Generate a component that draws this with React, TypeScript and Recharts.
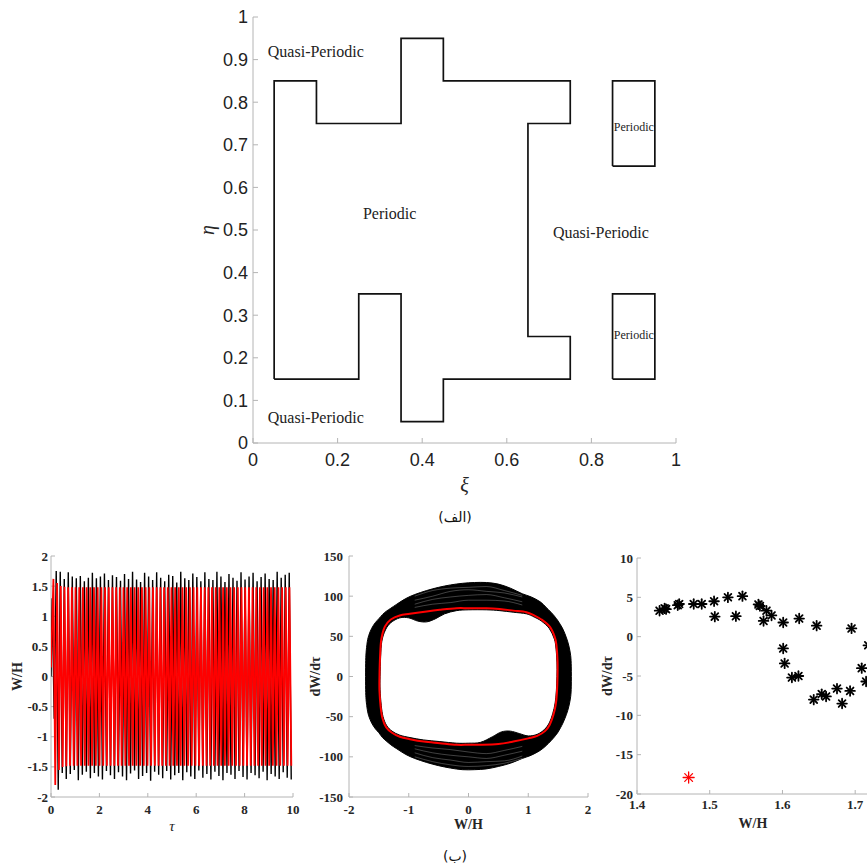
import React from 'react';
import { ScatterChart, Scatter, XAxis, YAxis } from 'recharts';

// ---------------- (الف) regime map ----------------
const xiTicks = [0, 0.2, 0.4, 0.6, 0.8, 1];
const etaTicks = [0, 0.1, 0.2, 0.3, 0.4, 0.5, 0.6, 0.7, 0.8, 0.9, 1];
const mainRegionXi = [0.05, 0.05, 0.15, 0.15, 0.35, 0.35, 0.45, 0.45, 0.75, 0.75, 0.65, 0.65, 0.75, 0.75, 0.45, 0.45, 0.35, 0.35, 0.25, 0.25, 0.05];
const mainRegionEta = [0.15, 0.85, 0.85, 0.75, 0.75, 0.95, 0.95, 0.85, 0.85, 0.75, 0.75, 0.25, 0.25, 0.15, 0.15, 0.05, 0.05, 0.35, 0.35, 0.15, 0.15];
const upperBoxXi = [0.85, 0.85, 0.95, 0.95, 0.85];
const upperBoxEta = [0.65, 0.85, 0.85, 0.65, 0.65];
const lowerBoxXi = [0.85, 0.85, 0.95, 0.95, 0.85];
const lowerBoxEta = [0.15, 0.35, 0.35, 0.15, 0.15];
const regionLabelText = ['Quasi-Periodic', 'Quasi-Periodic', 'Periodic', 'Quasi-Periodic', 'Periodic', 'Periodic'];
const regionLabelXi = [0.035, 0.035, 0.26, 0.709, 0.853, 0.853];
const regionLabelEta = [0.92, 0.061, 0.5376, 0.495, 0.742, 0.2535];
const regionLabelSmall = [false, false, false, false, true, true];

// ---------------- (ب) left: time history ----------------
const tauTicks = [0, 2, 4, 6, 8, 10];
const whTicks = [-2, -1.5, -1, -0.5, 0, 0.5, 1, 1.5, 2];
const blackStartValue = 0;
const blackFirstTau = 0.05;
const blackHalfPeriod = 0.083;
const blackPeaks = [
  1.30, 1.75, 1.74, 1.62, 1.73, 1.66, 1.63, 1.67, 1.58, 1.64,
  1.72, 1.63, 1.66, 1.71, 1.60, 1.68, 1.65, 1.59, 1.70, 1.62,
  1.74, 1.61, 1.57, 1.72, 1.66, 1.60, 1.73, 1.64, 1.58, 1.69,
  1.67, 1.56, 1.74, 1.63, 1.60, 1.71, 1.65, 1.58, 1.73, 1.62,
  1.60, 1.74, 1.66, 1.57, 1.70, 1.64, 1.59, 1.73, 1.61, 1.66,
  1.72, 1.58, 1.65, 1.71, 1.62, 1.60, 1.74, 1.64, 1.69, 1.72,
];
const blackTroughs = [
  -0.70, -1.88, -1.60, -1.70, -1.62, -1.55, -1.72, -1.63, -1.58, -1.69,
  -1.60, -1.66, -1.71, -1.57, -1.64, -1.70, -1.59, -1.66, -1.72, -1.61,
  -1.56, -1.70, -1.65, -1.60, -1.73, -1.58, -1.63, -1.69, -1.57, -1.71,
  -1.64, -1.60, -1.72, -1.59, -1.66, -1.70, -1.56, -1.68, -1.62, -1.71,
  -1.58, -1.65, -1.72, -1.60, -1.63, -1.70, -1.57, -1.67, -1.71, -1.60,
  -1.64, -1.69, -1.58, -1.72, -1.62, -1.66, -1.70, -1.59, -1.68, -1.71,
];
const redStartValue = 0.15;
const redFirstTau = 0.1;
const redHalfPeriod = 0.0762;
const redPeaks = [
  1.62, 1.55, 1.50, 1.49, 1.48, 1.48, 1.48, 1.48, 1.48, 1.48,
  1.48, 1.48, 1.48, 1.48, 1.48, 1.48, 1.48, 1.48, 1.48, 1.48,
  1.48, 1.48, 1.48, 1.48, 1.48, 1.48, 1.48, 1.48, 1.48, 1.48,
  1.48, 1.48, 1.48, 1.48, 1.48, 1.48, 1.48, 1.48, 1.48, 1.48,
  1.48, 1.48, 1.48, 1.48, 1.48, 1.48, 1.48, 1.48, 1.48, 1.48,
  1.48, 1.48, 1.48, 1.48, 1.48, 1.48, 1.48, 1.48, 1.48, 1.48,
  1.48, 1.48, 1.48, 1.48, 1.48,
];
const redTroughs = [
  -1.80, -1.55, -1.50, -1.49, -1.48, -1.48, -1.48, -1.48, -1.48, -1.48,
  -1.48, -1.48, -1.48, -1.48, -1.48, -1.48, -1.48, -1.48, -1.48, -1.48,
  -1.48, -1.48, -1.48, -1.48, -1.48, -1.48, -1.48, -1.48, -1.48, -1.48,
  -1.48, -1.48, -1.48, -1.48, -1.48, -1.48, -1.48, -1.48, -1.48, -1.48,
  -1.48, -1.48, -1.48, -1.48, -1.48, -1.48, -1.48, -1.48, -1.48, -1.48,
  -1.48, -1.48, -1.48, -1.48, -1.48, -1.48, -1.48, -1.48, -1.48, -1.48,
  -1.48, -1.48, -1.48, -1.48, -1.48,
];

// ---------------- (ب) middle: phase portrait ----------------
const phaseXTicks = [-2, -1, 0, 1, 2];
const phaseYTicks = [-150, -100, -50, 0, 50, 100, 150];
const bandX = [-1.72, -1.70, -1.67, -1.62, -1.56, -1.50, -1.44, -1.38, -1.30, -1.20, -1.05, -0.90, -0.70, -0.50, -0.30, -0.10, 0.10, 0.30, 0.50, 0.70, 0.90, 1.05, 1.20, 1.30, 1.38, 1.44, 1.50, 1.58, 1.64, 1.68, 1.71, 1.72];
const bandOuterTop = [20, 40, 51, 60, 67, 72, 77, 81, 85, 90, 97, 102, 107, 111, 114, 116, 117, 117, 115, 110, 103, 99, 93, 86, 80, 75, 69, 59, 48, 38, 26, 12];
const bandOuterBottom = [-20, -38, -49, -58, -65, -70, -76, -80, -85, -90, -97, -102, -107, -111, -114, -116, -116, -115, -112, -108, -102, -98, -92, -86, -80, -75, -69, -58, -47, -37, -25, -12];
const holeX = [-1.48, -1.47, -1.45, -1.39, -1.30, -1.15, -1.00, -0.85, -0.70, -0.55, -0.40, -0.20, 0, 0.30, 0.52, 0.75, 0.97, 1.10, 1.22, 1.35, 1.43, 1.46, 1.48, 1.48, 1.47, 1.45, 1.41, 1.35, 1.27, 1.15, 1.00, 0.85, 0.70, 0.55, 0.40, 0.20, 0, -0.20, -0.48, -0.75, -0.98, -1.15, -1.28, -1.37, -1.43, -1.46, -1.48];
const holeY = [0, 25, 44, 58, 67, 73, 73, 69, 68, 72, 78, 82, 83, 83, 82, 80, 78, 74, 69, 60, 48, 38, 18, 0, -18, -33, -46, -58, -66, -72, -74, -71, -68, -69, -75, -82, -83, -83, -81, -79, -76, -73, -68, -61, -50, -36, -16];
const streakX = [-0.9, -0.6, -0.3, 0, 0.3, 0.6, 0.9];
const streakTopA = [90, 96, 99, 101, 102, 98, 93];
const streakTopB = [95, 100, 106, 108, 106, 104, 99];
const streakTopC = [100, 107, 110, 111, 112, 107, 101];
const streakTopD = [86, 90, 92, 95, 95, 94, 89];
const streakBottomA = [-90, -95, -98, -100, -102, -98, -93];
const streakBottomB = [-95, -101, -104, -107, -106, -105, -99];
const streakBottomC = [-100, -106, -110, -112, -111, -108, -102];
const streakBottomD = [-86, -89, -91, -94, -96, -92, -87];
const limitCycleX = [-1.49, -1.48, -1.46, -1.40, -1.30, -1.15, -0.98, -0.70, -0.48, -0.20, 0, 0.30, 0.52, 0.75, 0.97, 1.10, 1.22, 1.36, 1.44, 1.47, 1.49, 1.49, 1.48, 1.46, 1.42, 1.36, 1.28, 1.15, 1.00, 0.75, 0.50, 0.20, 0, -0.20, -0.48, -0.75, -0.98, -1.15, -1.28, -1.38, -1.44, -1.47, -1.49];
const limitCycleY = [0, 25, 46, 62, 71, 76, 78, 81, 83, 85, 85, 85, 84, 82, 80, 76, 71, 62, 50, 40, 20, 0, -20, -35, -48, -60, -68, -74, -77, -81, -84, -85, -85, -85, -83, -81, -78, -75, -70, -63, -52, -38, -18];

// ---------------- (ب) right: Poincaré section ----------------
const poincareXTicks = [1.4, 1.5, 1.6, 1.7];
const poincareYTicks = [-20, -15, -10, -5, 0, 5, 10];
const poincareX = [1.431, 1.438, 1.440, 1.456, 1.458, 1.478, 1.489, 1.506, 1.507, 1.525, 1.536, 1.545, 1.567, 1.569, 1.578, 1.574, 1.585, 1.601, 1.601, 1.603, 1.613, 1.622, 1.623, 1.647, 1.643, 1.654, 1.660, 1.675, 1.682, 1.693, 1.695, 1.709, 1.715, 1.718];
const poincareY = [3.3, 3.6, 3.5, 4.0, 4.15, 4.15, 4.15, 4.5, 2.55, 5.0, 2.6, 5.15, 4.1, 3.9, 3.3, 2.0, 2.7, 1.8, -1.5, -3.4, -5.2, -5.0, 2.3, 1.4, -8.0, -7.3, -7.6, -6.6, -8.5, -6.9, 1.05, -4.0, -5.7, -1.1];
const periodicPointX = [1.471];
const periodicPointY = [-17.9];

// ---------------- derived tables ----------------
const toPts = (xs: number[], ys: number[]) => xs.map((x, i) => ({ x, y: ys[i] }));
const mainRegion = toPts(mainRegionXi, mainRegionEta);
const upperBox = toPts(upperBoxXi, upperBoxEta);
const lowerBox = toPts(lowerBoxXi, lowerBoxEta);
const regionLabels = regionLabelText.map((text, i) => ({ x: regionLabelXi[i], y: regionLabelEta[i], text, small: regionLabelSmall[i] }));

const zigzag = (startVal: number, first: number, half: number, peaks: number[], troughs: number[]) => {
  const pts = [{ x: 0, y: startVal }];
  peaks.forEach((p, i) => {
    pts.push({ x: first + 2 * i * half, y: p });
    pts.push({ x: first + (2 * i + 1) * half, y: troughs[i] });
  });
  return pts;
};
const blackSeries = zigzag(blackStartValue, blackFirstTau, blackHalfPeriod, blackPeaks, blackTroughs);
const redSeries = zigzag(redStartValue, redFirstTau, redHalfPeriod, redPeaks, redTroughs);

const outerLoop = [
  ...toPts(bandX, bandOuterTop),
  ...toPts(bandX, bandOuterBottom).reverse(),
];
const hole = toPts(holeX, holeY);
const streaks = [streakTopA, streakTopB, streakTopC, streakTopD, streakBottomA, streakBottomB, streakBottomC, streakBottomD].map((ys) => toPts(streakX, ys));
const limitCycle = toPts(limitCycleX, limitCycleY);
const poincare = toPts(poincareX, poincareY);
const periodicPoint = toPts(periodicPointX, periodicPointY);

// ---------------- helpers ----------------
const BOX = '#b4b4b4';
const noShape = () => <g />;
const hiddenTick = () => <g />;

// closed Catmull-Rom path through the projected points
const closedSmoothPath = (pts: { x: number; y: number }[]) => {
  const n = pts.length;
  let d = `M${pts[0].x},${pts[0].y}`;
  for (let i = 0; i < n; i++) {
    const p0 = pts[(i - 1 + n) % n];
    const p1 = pts[i];
    const p2 = pts[(i + 1) % n];
    const p3 = pts[(i + 2) % n];
    const c1x = p1.x + (p2.x - p0.x) / 6;
    const c1y = p1.y + (p2.y - p0.y) / 6;
    const c2x = p2.x - (p3.x - p1.x) / 6;
    const c2y = p2.y - (p3.y - p1.y) / 6;
    d += `C${c1x},${c1y} ${c2x},${c2y} ${p2.x},${p2.y}`;
  }
  return d + 'Z';
};
const smoothLoop = (fill: string, stroke: string, strokeWidth: number) => (props: any) => {
  const pts = props.points || [];
  if (pts.length < 3) return <g />;
  return <path d={closedSmoothPath(pts)} fill={fill} stroke={stroke} strokeWidth={strokeWidth} strokeLinejoin="round" />;
};

const xLabel = (text: string, dy: number, style: React.CSSProperties, dx = 0) => (props: any) => {
  const vb = props.viewBox || {};
  return (
    <text x={vb.x + vb.width / 2 + dx} y={vb.y + dy} textAnchor="middle" dominantBaseline="central" style={style}>
      {text}
    </text>
  );
};
const yLabel = (text: string, d: number, style: React.CSSProperties) => (props: any) => {
  const vb = props.viewBox || {};
  const x = vb.x + vb.width - d;
  const y = vb.y + vb.height / 2;
  return (
    <text x={x} y={y} transform={`rotate(-90 ${x} ${y})`} textAnchor="middle" dominantBaseline="central" style={style}>
      {text}
    </text>
  );
};

type AxesOpts = {
  xDomain: number[]; yDomain: number[]; xTicks: number[]; yTicks: number[];
  tickLen: number; xMargin: number; yMargin: number; yWidth: number; xHeight: number;
  tickStyle: any; xLab: any; yLab: any;
};
const boxAxes = (o: AxesOpts) => [
  <XAxis key="xb" xAxisId={0} type="number" dataKey="x" domain={o.xDomain} ticks={o.xTicks} interval={0}
    allowDataOverflow tickSize={-o.tickLen} tickMargin={o.xMargin} height={o.xHeight}
    axisLine={{ stroke: BOX }} tickLine={{ stroke: BOX }} tick={o.tickStyle} label={o.xLab} />,
  <XAxis key="xt" xAxisId="top" orientation="top" type="number" dataKey="x" domain={o.xDomain} ticks={o.xTicks} interval={0}
    allowDataOverflow tickSize={-o.tickLen} height={0} axisLine={{ stroke: BOX }} tickLine={{ stroke: BOX }} tick={hiddenTick} />,
  <YAxis key="yl" yAxisId={0} type="number" dataKey="y" domain={o.yDomain} ticks={o.yTicks} interval={0}
    allowDataOverflow tickSize={-o.tickLen} tickMargin={o.yMargin} width={o.yWidth}
    axisLine={{ stroke: BOX }} tickLine={{ stroke: BOX }} tick={o.tickStyle} label={o.yLab} />,
  <YAxis key="yr" yAxisId="right" orientation="right" type="number" dataKey="y" domain={o.yDomain} ticks={o.yTicks} interval={0}
    allowDataOverflow tickSize={-o.tickLen} width={0} axisLine={{ stroke: BOX }} tickLine={{ stroke: BOX }} tick={hiddenTick} />,
];

const sansTick = { fontSize: 18, fontFamily: 'Liberation Sans, Arial, sans-serif', fill: '#222' };
const boldTick = { fontSize: 13, fontFamily: 'Liberation Serif, serif', fontWeight: 'bold', fill: '#262626' };
const greekStyle: React.CSSProperties = { fontSize: 20, fontFamily: 'Liberation Serif, serif', fontStyle: 'italic', fill: '#262626' };
const boldLab: React.CSSProperties = { fontSize: 14, fontFamily: 'Liberation Serif, serif', fontWeight: 'bold', fill: '#262626' };
const tauStyle: React.CSSProperties = { fontSize: 15, fontFamily: 'Liberation Serif, serif', fontStyle: 'italic', fill: '#262626' };

const RegionText = (p: any) => (
  <text x={p.cx} y={p.cy} textAnchor="start" dominantBaseline="central"
    style={{ fontSize: p.payload.small ? 12 : 16, fontFamily: 'Liberation Serif, serif', fill: '#222' }}>
    {p.payload.text}
  </text>
);

const asterisk = (color: string, r: number, w: number) => (p: any) => {
  const { cx, cy } = p;
  const d = r * 0.7071;
  return (
    <g stroke={color} strokeWidth={w} strokeLinecap="round">
      <line x1={cx - r} y1={cy} x2={cx + r} y2={cy} />
      <line x1={cx} y1={cy - r} x2={cx} y2={cy + r} />
      <line x1={cx - d} y1={cy - d} x2={cx + d} y2={cy + d} />
      <line x1={cx - d} y1={cy + d} x2={cx + d} y2={cy - d} />
    </g>
  );
};

const captionStyle: React.CSSProperties = {
  position: 'absolute', left: 405, width: 100, textAlign: 'center',
  fontFamily: 'DejaVu Sans, sans-serif', fontSize: 14, color: '#111', lineHeight: '18px',
};

export default function App() {
  return (
    <div style={{ position: 'absolute', left: 0, top: 0, width: 867, height: 868, overflow: 'hidden', background: '#fff' }}>
      {/* top panel */}
      <div style={{ position: 'absolute', left: 0, top: 0 }}>
        <ScatterChart width={867} height={540} margin={{ top: 17, right: 191, bottom: 67, left: 193 }}>
          {boxAxes({
            xDomain: [0, 1], yDomain: [0, 1], xTicks: xiTicks, yTicks: etaTicks, tickLen: 5,
            xMargin: 15, yMargin: 10, yWidth: 60, xHeight: 30, tickStyle: sansTick,
            xLab: xLabel('ξ', 42, greekStyle), yLab: yLabel('η', 46, greekStyle),
          })}
          <Scatter data={mainRegion} line={{ stroke: '#111', strokeWidth: 1.7 }} lineType="joint" shape={noShape} isAnimationActive={false} />
          <Scatter data={upperBox} line={{ stroke: '#111', strokeWidth: 1.7 }} lineType="joint" shape={noShape} isAnimationActive={false} />
          <Scatter data={lowerBox} line={{ stroke: '#111', strokeWidth: 1.7 }} lineType="joint" shape={noShape} isAnimationActive={false} />
          <Scatter data={regionLabels} shape={RegionText} isAnimationActive={false} />
        </ScatterChart>
      </div>
      <div style={{ ...captionStyle, top: 508 }}>(الف)</div>

      {/* bottom left: time history */}
      <div style={{ position: 'absolute', left: 0, top: 540 }}>
        <ScatterChart width={320} height={300} margin={{ top: 16, right: 27, bottom: 18, left: 11 }}>
          {boxAxes({
            xDomain: [0, 10], yDomain: [-2, 2], xTicks: tauTicks, yTicks: whTicks, tickLen: 4,
            xMargin: 12, yMargin: 7, yWidth: 40, xHeight: 25, tickStyle: boldTick,
            xLab: xLabel('τ', 29, tauStyle), yLab: yLabel('W/H', 34, boldLab),
          })}
          <Scatter data={blackSeries} line={{ stroke: '#000', strokeWidth: 1.4 }} lineType="joint" shape={noShape} isAnimationActive={false} />
          <Scatter data={redSeries} line={{ stroke: '#ff0000', strokeWidth: 1.8 }} lineType="joint" shape={noShape} isAnimationActive={false} />
        </ScatterChart>
      </div>

      {/* bottom middle: phase portrait */}
      <div style={{ position: 'absolute', left: 300, top: 540 }}>
        <ScatterChart width={310} height={300} margin={{ top: 16, right: 22, bottom: 18, left: 4 }}>
          {boxAxes({
            xDomain: [-2, 2], yDomain: [-150, 150], xTicks: phaseXTicks, yTicks: phaseYTicks, tickLen: 4,
            xMargin: 12, yMargin: 10, yWidth: 45, xHeight: 25, tickStyle: boldTick,
            xLab: xLabel('W/H', 27, boldLab), yLab: yLabel('dW/dτ', 34, boldLab),
          })}
          <Scatter data={outerLoop} line={smoothLoop('#000', '#000', 1)} lineType="joint" shape={noShape} isAnimationActive={false} />
          <Scatter data={hole} line={smoothLoop('#fff', '#000', 1)} lineType="joint" shape={noShape} isAnimationActive={false} />
          {streaks.map((s, i) => (
            <Scatter key={i} data={s} line={{ stroke: '#fff', strokeWidth: 0.5, strokeOpacity: 0.5 }} lineJointType="monotoneX" lineType="joint" shape={noShape} isAnimationActive={false} />
          ))}
          <Scatter data={limitCycle} line={smoothLoop('none', '#ff0000', 2)} lineType="joint" shape={noShape} isAnimationActive={false} />
        </ScatterChart>
      </div>

      {/* bottom right: Poincaré points */}
      <div style={{ position: 'absolute', left: 590, top: 540 }}>
        <ScatterChart width={330} height={300} margin={{ top: 18, right: 43, bottom: 21, left: 2 }}>
          {boxAxes({
            xDomain: [1.4, 1.73], yDomain: [-20, 10], xTicks: poincareXTicks, yTicks: poincareYTicks, tickLen: 4,
            xMargin: 10, yMargin: 8, yWidth: 45, xHeight: 25, tickStyle: boldTick,
            xLab: xLabel('W/H', 29, boldLab, -4), yLab: yLabel('dW/dτ', 30, boldLab),
          })}
          <Scatter data={poincare} shape={asterisk('#000', 4.8, 1.8)} isAnimationActive={false} />
          <Scatter data={periodicPoint} shape={asterisk('#ff0000', 5.5, 1.3)} isAnimationActive={false} />
        </ScatterChart>
      </div>
      <div style={{ ...captionStyle, top: 847 }}>(ب)</div>
    </div>
  );
}
